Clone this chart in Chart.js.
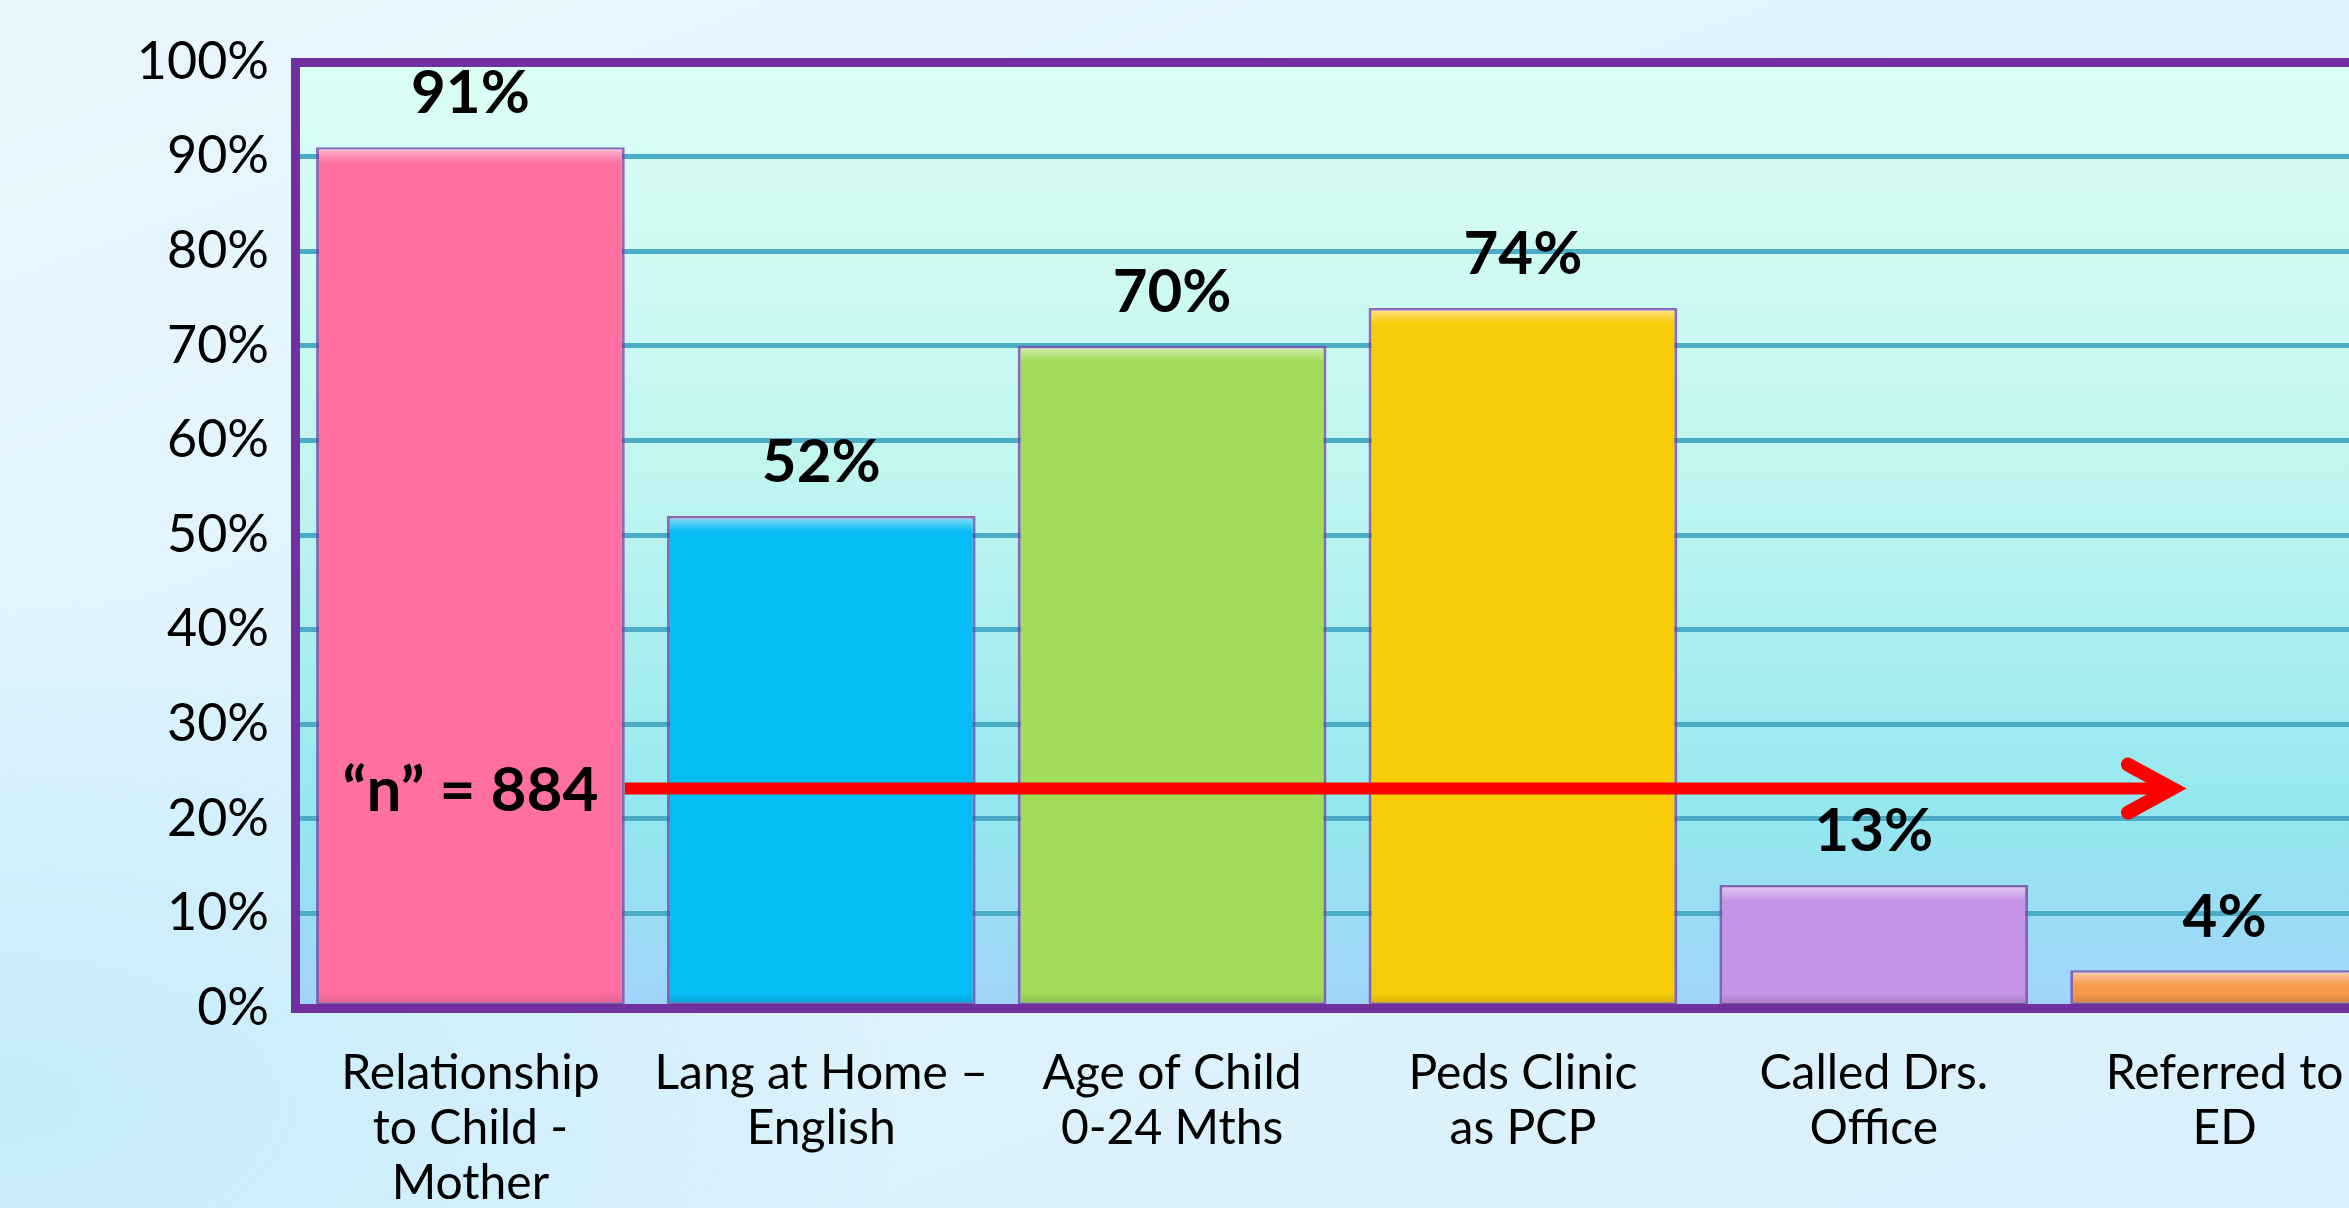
<!DOCTYPE html>
<html>
<head>
<meta charset="utf-8">
<script src="https://cdn.jsdelivr.net/npm/chart.js@4.4.1/dist/chart.umd.min.js"></script>
<style>
    html, body { margin: 0; padding: 0; overflow: hidden; }
    body {
        width: 2349px; height: 1208px;
        background:
            radial-gradient(ellipse 900px 500px at 0px 1100px, rgba(190,234,250,0.8), rgba(190,234,250,0) 100%),
            linear-gradient(160deg, #e9f7fe 0%, #dff3fd 40%, #d9f1fc 100%);
    }
    #wrap { position: absolute; left: 0; top: 0; width: 2410px; height: 1208px; }
</style>
</head>
<body>
<div id="wrap"><canvas id="chart"></canvas></div>
<script>
    // ---- data ----
    const categories = [
        ['Relationship', 'to Child -', 'Mother'],
        ['Lang at Home –', 'English'],
        ['Age of Child', '0-24 Mths'],
        ['Peds Clinic', 'as PCP'],
        ['Called Drs.', 'Office'],
        ['Referred to', 'ED'],
    ];
    const percents = [91, 52, 70, 74, 13, 4];
    const barColors = ['#ff6fa0', '#05bcf4', '#a1dd5b', '#f9cc08', '#c593e5', '#f4994a'];
    const yTicks = [0, 10, 20, 30, 40, 50, 60, 70, 80, 90, 100];

    // "n" annotation + arrow (in data units: category index / percent)
    const sampleLabel = '“n” = 884';
    const ARROW = { y: 23.2, from: 0.44, to: 4.85 };

    const PURPLE = '#7030a0';
    const GRID = '#4bacc6';

    // plot area gradient background
    const plotBg = {
        id: 'plotBg',
        beforeDraw(chart) {
            const { ctx, chartArea: a } = chart;
            const g = ctx.createLinearGradient(0, a.top, 0, a.bottom);
            g.addColorStop(0, '#dbfef5');
            g.addColorStop(0.45, '#bff5f0');
            g.addColorStop(0.8, '#93e7ef');
            g.addColorStop(1, '#a2d3fa');
            ctx.save();
            ctx.fillStyle = g;
            ctx.fillRect(a.left, a.top, a.right - a.left, a.bottom - a.top);
            ctx.restore();
        }
    };

    // value labels, bevel highlight, "n" text and arrow
    const overlay = {
        id: 'overlay',
        afterDatasetsDraw(chart) {
            const { ctx } = chart;
            const meta = chart.getDatasetMeta(0);
            ctx.save();
            meta.data.forEach((bar, i) => {
                const w = bar.width, left = bar.x - w / 2;
                // bevel: light top strip
                const hg = ctx.createLinearGradient(0, bar.y, 0, bar.y + 16);
                hg.addColorStop(0, 'rgba(255,255,255,0.55)');
                hg.addColorStop(1, 'rgba(255,255,255,0)');
                ctx.fillStyle = hg;
                ctx.fillRect(left + 3, bar.y + 2, w - 6, 14);
                // bevel: darker bottom strip
                const bh = Math.min(12, bar.base - bar.y - 16);
                if (bh > 0) {
                    const dg = ctx.createLinearGradient(0, bar.base - bh, 0, bar.base);
                    dg.addColorStop(0, 'rgba(0,0,0,0)');
                    dg.addColorStop(1, 'rgba(60,20,90,0.18)');
                    ctx.fillStyle = dg;
                    ctx.fillRect(left + 3, bar.base - bh, w - 6, bh);
                }
                // value label
                ctx.fillStyle = '#000';
                ctx.font = 'bold 60px Lato';
                ctx.textAlign = 'center';
                ctx.textBaseline = 'middle';
                ctx.fillText(percents[i] + '%', bar.x, bar.y - 53);
            });

            const xs = chart.scales.x, ys = chart.scales.y;
            const ay = ys.getPixelForValue(ARROW.y);
            // sample size text on first bar
            ctx.font = 'bold 62px Lato';
            ctx.fillStyle = '#000';
            ctx.textAlign = 'center';
            ctx.textBaseline = 'middle';
            ctx.fillText(sampleLabel, xs.getPixelForValue(0), ay + 2);

            // red arrow
            const x0 = xs.getPixelForValue(ARROW.from);
            const x1 = xs.getPixelForValue(ARROW.to);
            ctx.strokeStyle = '#ff0000';
            ctx.lineWidth = 12;
            ctx.lineCap = 'butt';
            ctx.beginPath();
            ctx.moveTo(x0, ay);
            ctx.lineTo(x1 - 6, ay);
            ctx.stroke();
            ctx.lineWidth = 14;
            ctx.lineCap = 'round';
            ctx.lineJoin = 'miter';
            ctx.beginPath();
            ctx.moveTo(x1 - 44, ay - 24);
            ctx.lineTo(x1, ay);
            ctx.lineTo(x1 - 44, ay + 24);
            ctx.stroke();
            ctx.restore();
        }
    };

    new Chart(document.getElementById('chart'), {
        type: 'bar',
        data: {
            labels: categories,
            datasets: [{
                data: percents,
                backgroundColor: barColors,
                borderColor: 'rgba(120,60,160,0.75)',
                borderWidth: 3,
                borderSkipped: false,
                categoryPercentage: 1,
                barPercentage: 0.88,
            }]
        },
        options: {
            responsive: true,
            maintainAspectRatio: false,
            animation: false,
            layout: { padding: { top: 62, right: 10, left: 0, bottom: 0 } },
            plugins: {
                legend: { display: false },
                tooltip: { enabled: false },
            },
            scales: {
                x: {
                    grid: { display: false, drawTicks: false },
                    border: { display: true, color: PURPLE, width: 9 },
                    ticks: {
                        color: '#000',
                        font: { family: 'Lato', size: 48, lineHeight: 1.15 },
                        padding: 38,
                        maxRotation: 0,
                        autoSkip: false,
                    },
                    afterFit(scale) { scale.height = 200; },
                },
                y: {
                    min: 0,
                    max: 100,
                    afterBuildTicks(scale) { scale.ticks = yTicks.map(v => ({ value: v })); },
                    grid: {
                        drawTicks: false,
                        color: c => (c.tick && c.tick.value === 100) ? PURPLE : GRID,
                        lineWidth: c => (c.tick && c.tick.value === 100) ? 9 : 5,
                    },
                    border: { display: true, color: PURPLE, width: 9 },
                    ticks: {
                        color: '#000',
                        font: { family: 'Lato', size: 52 },
                        padding: 26,
                        callback: v => v + '%',
                    },
                    afterFit(scale) { scale.width = 295; },
                },
            },
        },
        plugins: [plotBg, overlay],
    });
</script>
</body>
</html>
